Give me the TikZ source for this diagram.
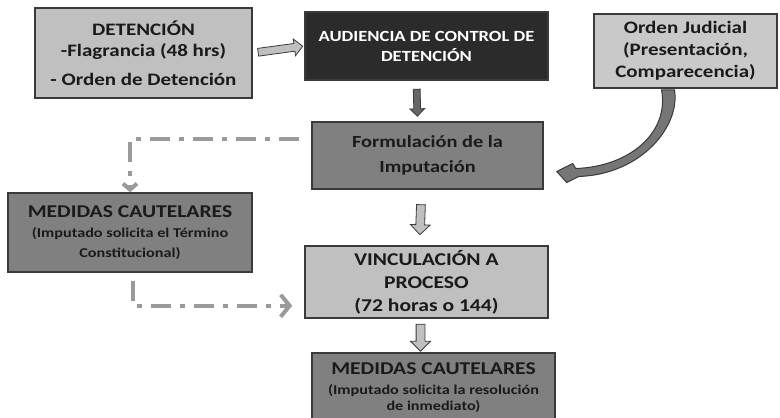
\documentclass[tikz,border=0pt]{standalone}
\usepackage{fontspec}
\setmainfont[FakeStretch=1.2]{Carlito}
\usetikzlibrary{shapes.arrows,arrows.meta,calc}
\definecolor{boxlight}{HTML}{C0C0C0}
\definecolor{boxmid}{HTML}{808080}
\definecolor{boxdark}{HTML}{2B2B2B}
\definecolor{boxline}{HTML}{3A3A3A}
\definecolor{textdark}{HTML}{1A1A1A}
\definecolor{dashgray}{HTML}{9A9A9A}
\definecolor{curvegray}{HTML}{767676}

\begin{document}
\begin{tikzpicture}[x=1pt, y=-1pt, font=\bfseries,
    etapa/.style ={draw=boxline, line width=1.5pt, align=center, inner sep=2pt, text=textdark},
    clara/.style ={etapa, fill=boxlight},
    media/.style ={etapa, fill=boxmid},
    oscura/.style ={etapa, fill=boxdark, text=white},
    hueca/.style ={single arrow, draw=boxline, fill=boxlight, line width=0.8pt,
                   inner xsep=0pt, inner ysep=#1, single arrow head indent=0pt,
                   sloped, allow upside down},
    punteada/.style ={draw=dashgray, line width=4pt,
                   dash pattern=on 20pt off 9pt on 5pt off 9pt}]
   \useasboundingbox (0,0) rectangle (780,418);

   \node[clara, minimum width=217pt, minimum height=90pt,
         font=\bfseries\fontsize{17.5}{21}\selectfont] (det) at (143.5,53)
         {DETENCIÓN\\-Flagrancia (48 hrs)\\[8pt]- Orden de Detención};
   \node[oscura, minimum width=243pt, minimum height=68pt,
         font=\bfseries\fontsize{15.5}{20}\selectfont] (aud) at (426.5,46)
         {AUDIENCIA DE CONTROL DE\\DETENCIÓN};
   \node[clara, fill=boxlight!85!white, minimum width=183pt, minimum height=74pt,
         font=\bfseries\fontsize{17.5}{22}\selectfont] (ord) at (685.5,51)
         {Orden Judicial\\(Presentación,\\Comparecencia)};
   \node[media, minimum width=231pt, minimum height=67pt,
         font=\bfseries\fontsize{17}{25}\selectfont] (fmt) at (427.5,155.5)
         {Formulación de la\\Imputación};
   \node[media, minimum width=244pt, minimum height=79pt,
         font=\bfseries\fontsize{13.5}{20}\selectfont] (med1) at (130,232.5)
         {{\fontsize{18}{20}\selectfont MEDIDAS CAUTELARES}\\
          (Imputado solicita el Término\\Constitucional)};
   \node[clara, minimum width=243pt, minimum height=72pt,
         font=\bfseries\fontsize{18}{23}\selectfont] (vinc) at (426.5,282)
         {VINCULACIÓN A\\PROCESO\\(72 horas o 144)};
   \node[media, minimum width=243pt, minimum height=70pt,
         font=\bfseries\fontsize{13.5}{18}\selectfont] (med2) at (433.5,388)
         {{\fontsize{18}{20}\selectfont MEDIDAS CAUTELARES}\\[2pt]
          (Imputado solicita la resolución\\[-2pt]de inmediato)};

   % flechas huecas
   \path (det.east) -- (aud.west)
      node[midway, hueca=3.5pt, single arrow head extend=4.5pt, minimum height=45pt] (f1) {};
   \path ([xshift=-10pt]aud.south) -- ([xshift=-10pt]fmt.north)
      node[midway, hueca=3pt, fill=boxmid!80!black, single arrow head extend=4pt,
           minimum height=27pt] (f2) {};
   \path ([xshift=-6pt]fmt.south) -- ([xshift=-7pt]vinc.north)
      node[midway, hueca=4pt, single arrow head extend=5.5pt, minimum height=30pt] (f3) {};
   \path ([xshift=-6pt]vinc.south) -- ([xshift=-13pt]med2.north)
      node[midway, hueca=4pt, single arrow head extend=5.5pt, minimum height=27pt] (f4) {};

   % flecha curva
   \filldraw[fill=curvegray, draw=boxline, line width=1pt]
      ($(ord.south)+(-24,1)$) .. controls +(8,42) and +(55,-2) .. ($(fmt.east)+(32,13)$)
      -- ++(-3,-5) -- ++(-16,8) -- ++(10,11) -- ++(12,-6)
      .. controls +(62,-2) and +(6,37) .. ($(ord.south)+(-11,1)$) -- cycle;

   % lineas punteadas
   \draw[punteada, -{Straight Barb[length=6pt, width=14pt]}, shorten <=12pt]
      (fmt.172) -| (med1.north);
   \draw[punteada, -{Straight Barb[length=9pt, width=22pt]}, shorten <=8pt, shorten >=12pt]
      ([xshift=3pt]med1.south) |- (vinc.191);
\end{tikzpicture}
\end{document}
